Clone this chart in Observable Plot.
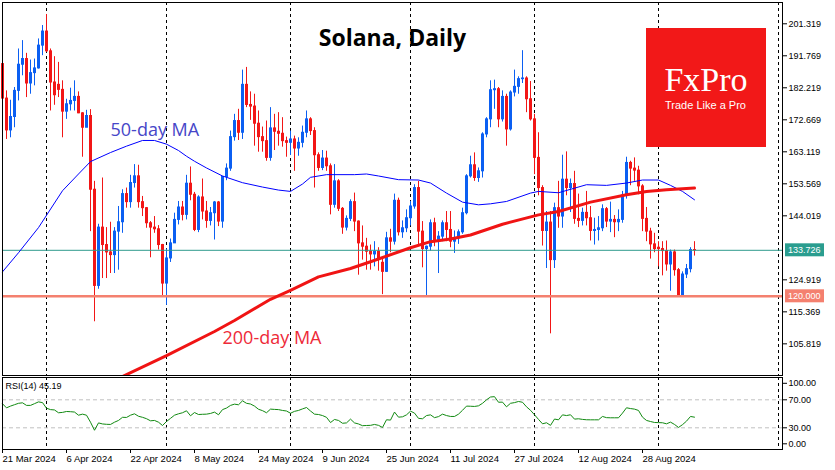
<!DOCTYPE html>
<html><head><meta charset="utf-8">
<script src="https://cdn.jsdelivr.net/npm/d3@7"></script>
<script src="https://cdn.jsdelivr.net/npm/@observablehq/plot@0.6"></script>
<style>
body{margin:0;background:#fff;}
#chart{position:relative;width:835px;height:470px;overflow:hidden;}
#chart svg{display:block;}
</style></head><body><div id="chart"></div>
<script>
// ---------- data ----------
const title = "Solana, Daily";
const startDate = "2024-03-21";
const open = [189.3,179.0,169.5,173.5,181.3,189.1,190.8,183.5,186.6,188.0,
194.8,199.0,193.1,183.8,183.1,181.6,175.1,177.3,178.3,179.5,
174.6,170.3,173.8,151.8,123.1,140.5,135.3,133.1,132.3,139.3,
142.1,150.5,148.1,153.8,155.8,148.1,146.3,141.8,140.5,140.0,
135.3,123.8,131.3,135.8,142.8,146.5,144.3,153.6,150.3,139.8,
149.5,145.3,142.5,144.8,148.0,142.3,155.6,158.1,167.5,172.3,
168.8,183.1,177.1,176.6,171.5,167.5,166.3,161.3,170.1,169.1,
168.5,166.3,165.8,166.8,164.1,165.8,168.8,172.8,169.3,162.1,
158.3,161.1,158.8,147.3,154.3,146.1,140.5,143.1,148.1,142.3,
135.8,134.8,133.3,132.5,133.3,130.0,127.3,137.3,136.3,148.5,
139.1,140.3,143.3,146.8,152.3,139.3,134.1,134.8,141.8,136.3,
137.8,141.8,139.8,136.3,137.3,139.1,144.8,155.8,159.1,155.3,
157.3,168.3,172.8,181.5,181.8,172.8,179.5,169.8,180.8,182.5,
184.8,185.0,178.8,172.8,161.3,152.3,139.5,142.0,130.8,146.3,
143.8,154.8,152.3,153.5,143.1,142.5,144.9,143.3,139.5,139.8,
140.3,146.0,142.3,142.8,142.1,142.8,150.1,159.8,158.1,157.5,
152.8,143.1,139.3,135.5,134.5,134.1,133.5,129.5,133.1,127.8,
120.1,126.5,128.1,133.8];
const high = [190.5,181.3,178.5,182.3,193.8,196.3,192.5,190.5,190.8,196.8,
200.8,204.1,193.8,191.5,189.8,184.3,178.8,182.1,184.3,181.0,
174.8,175.5,175.7,154.3,141.5,155.3,140.5,142.1,140.5,146.8,
151.8,152.3,156.1,159.3,159.1,149.8,146.5,142.3,143.8,141.1,
135.5,134.1,137.1,144.8,148.3,148.3,156.1,158.6,151.0,150.0,
155.0,148.3,146.5,148.3,148.3,155.8,159.5,169.3,174.3,175.8,
187.5,188.3,181.0,180.3,175.3,170.5,172.3,176.3,174.3,174.8,
173.3,167.5,169.3,167.8,167.3,170.8,175.3,173.3,170.3,162.8,
163.5,163.3,159.5,159.3,154.8,146.5,144.0,148.8,150.8,142.5,
141.0,137.3,135.3,136.3,134.5,131.5,139.1,140.0,150.5,149.3,
142.5,145.8,148.3,153.3,154.3,142.3,135.0,142.8,143.3,139.3,
142.5,145.3,145.3,139.5,139.8,146.3,156.3,161.8,162.8,158.3,
168.8,173.3,184.3,184.5,182.3,181.3,180.3,181.3,187.5,185.5,
193.3,185.5,184.1,174.3,168.8,153.0,145.3,145.3,147.8,154.3,
162.1,163.1,155.0,157.3,150.5,146.3,151.3,146.8,143.3,143.8,
147.3,146.5,148.1,144.1,145.8,151.3,161.5,160.3,161.3,158.8,
153.3,146.5,140.3,138.8,136.3,136.3,136.5,133.8,133.8,128.3,
127.3,129.5,134.5,136.3];
const low = [178.0,166.8,167.3,170.3,178.3,185.8,179.3,180.3,182.8,187.8,
191.8,192.8,175.3,177.0,179.3,167.3,172.8,175.3,175.3,174.5,
161.5,170.3,139.3,112.4,122.1,125.3,125.3,126.8,126.8,127.8,
138.8,146.3,146.3,152.3,146.3,143.8,140.3,131.5,138.8,133.8,
120.1,117.3,130.1,135.8,141.3,142.5,142.8,148.5,139.3,139.0,
142.8,140.3,141.0,136.8,140.8,140.3,154.5,157.3,166.3,166.5,
166.8,176.3,172.5,164.8,163.0,163.0,160.3,160.3,163.5,164.8,
164.5,161.5,162.0,157.3,161.8,164.3,167.3,168.0,152.3,157.3,
157.5,157.3,144.3,146.3,145.3,138.5,139.5,142.3,139.3,126.3,
130.8,127.8,127.8,128.8,127.5,120.5,127.1,133.0,135.3,138.0,
137.3,139.0,141.0,146.0,135.3,128.5,120.1,133.5,134.8,126.8,
136.3,136.3,134.5,132.8,135.5,138.5,144.3,155.3,154.3,154.0,
155.3,167.3,170.3,175.8,170.3,172.0,164.8,169.3,179.5,180.3,
183.5,174.8,172.3,156.3,150.0,135.0,128.3,108.8,128.3,140.3,
140.3,150.0,145.0,141.5,140.5,141.0,141.0,136.5,135.3,136.5,
139.3,140.5,139.0,137.5,139.3,141.8,149.0,153.0,154.3,150.3,
139.3,136.3,131.1,133.0,128.8,126.1,127.5,121.5,126.0,120.0,
120.0,125.3,127.0,132.0];
const close = [179.0,169.5,173.5,181.3,189.1,190.8,183.5,186.6,188.0,194.8,
199.0,193.1,183.8,180.0,181.6,175.1,177.3,178.3,179.5,174.6,
170.3,173.8,151.8,123.1,140.5,135.3,133.1,132.3,139.3,142.1,
150.5,148.1,153.8,155.8,148.1,146.3,141.8,140.5,140.0,135.3,
123.8,131.3,135.8,142.8,146.5,144.3,153.6,150.3,139.8,149.5,
145.3,142.5,144.8,148.0,142.3,155.6,158.1,167.5,172.3,168.8,
183.1,177.1,176.6,171.5,167.5,166.3,161.3,170.1,169.1,168.5,
166.3,165.8,166.8,164.1,165.8,168.8,172.8,169.3,162.1,158.3,
161.1,158.8,147.3,154.3,146.1,140.5,143.1,148.1,142.3,135.8,
134.8,133.3,132.5,133.3,131.3,127.3,137.3,136.3,148.5,139.1,
140.3,143.3,146.8,152.3,139.3,134.1,134.8,141.8,136.3,137.8,
141.8,139.8,136.3,137.3,139.1,144.8,155.8,159.1,155.3,157.3,
168.3,172.8,181.5,181.8,172.8,179.5,169.8,180.8,182.5,184.8,
185.0,178.8,172.8,161.3,152.3,139.5,142.0,130.8,146.3,143.8,
154.8,152.3,153.5,143.1,142.5,144.9,143.3,139.5,139.8,140.3,
146.0,142.3,142.8,142.1,142.8,150.1,159.8,158.1,157.5,152.8,
143.1,139.3,135.5,134.1,134.1,133.5,129.5,133.1,127.8,120.1,
126.5,128.1,133.8,133.726];
const rsi = [64.3,58.5,61,63,65,65.7,62,62,64.5,67,
66,58,56,55.5,51.5,52,53.3,53,52.5,48,
49.5,48,38,26.5,37,35.5,35,34.8,38,40.5,
45,44.8,48,50,46.5,45,43,40,40.5,38,
33.3,39,43.5,48,50,51.5,54.3,47.2,51.8,49,
49.3,49.5,50.5,52.4,48.6,56,58.2,62,63.8,62.9,
68.5,65,64,61,56.5,54.5,51.5,56.7,56.3,56,
54.8,54,50.8,53.5,54.8,57,59,54,49.5,49,
47.5,45,37.5,41.9,40.5,36.5,37,42.4,37,35.5,
33,33.3,33.5,34.8,33.5,30.5,41.5,41,52.5,45.2,
45.7,48.5,53.8,51,43.5,42.9,47.5,48.5,44.5,46,
49.5,47.5,46.2,46.2,49.5,55,61,60.8,60.5,61.4,
65,70,74,74.5,66.5,66.7,60,65,66,67.6,
66.5,60,55,48.6,42,35.7,37.2,33.5,42.5,41.4,
48.5,47.5,48.6,42.4,42.9,42,41.5,41.4,41.4,41.4,
46.2,44.5,44.3,44.3,44.3,51,58.6,57.5,56.7,54.8,
45.2,40.5,39,37.6,37.4,37.2,35.7,38.1,34.8,30.5,
34.5,39.5,46.2,45.19];
const ma50Day = [0,4,9,15,19,22,27,31,35,38,41,44,46,48,51,55,60,65,69,72,75,77,81,88,91,94,99,104,107,111,115,119,122,126,132,134,139,146,151,156,160,164,167,170,173];
const ma50 = [127.3,133,140.5,151.5,156.5,160.2,162.9,164.8,166.5,166.5,165.4,163.5,161.8,160.3,158.3,155.9,153.9,152.6,151.7,151.3,153.5,155.5,156.3,156.3,156.5,155.9,154.8,154.7,153.8,150.8,148.1,147.3,147.6,148.3,150.8,151.3,150.9,153.3,153.1,153.8,154.7,154.7,153.1,151.3,148.8];
const ma200Day = [29,41,53,58,67,72,79,87,92,102,107,112,117,125,134,139,147,156,161,166,173];
const ma200 = [95.5,102.3,109.5,112.8,119.1,121.8,125.8,128.3,130.3,134.5,136.3,137.1,138.3,141.5,144.3,145.3,148.1,150.3,151.3,151.8,152.3];
const priceTicks = [201.319,191.769,182.219,172.669,163.119,153.569,144.019,124.919,115.369,105.819];
const lastPrice = 133.726;
const supportLevel = 120.000;
const rsiLevels = [70, 30];
const rsiLabel = "RSI(14) 45.19";
const monthStarts = ["2024-04-01","2024-05-01","2024-06-01","2024-07-01","2024-08-01","2024-09-01","2024-10-01"];
const dateLabels = ["21 Mar 2024","6 Apr 2024","22 Apr 2024","8 May 2024","24 May 2024","9 Jun 2024","25 Jun 2024","11 Jul 2024","27 Jul 2024","12 Aug 2024","28 Aug 2024"];
const maLabels = ["50-day MA", "200-day MA"];
const brand = ["FxPro", "Trade Like a Pro"];

// ---------- build ----------
const DAY = 864e5;
const parseISO = d3.utcParse("%Y-%m-%d");
const t0 = parseISO(startDate);
const dateOf = i => new Date(+t0 + i * DAY);
const candles = open.map((o, i) => ({date: dateOf(i), open: o, high: high[i], low: low[i], close: close[i]}));
const rsiData = rsi.map((v, i) => ({date: dateOf(i), rsi: v}));
const ma50Pts = ma50Day.map((d, i) => ({date: dateOf(d), v: ma50[i]}));
const ma200Pts = ma200Day.map((d, i) => ({date: dateOf(d), v: ma200[i]}));
const seps = monthStarts.map(parseISO);
const tickDates = dateLabels.map(d3.utcParse("%d %b %Y"));
const xDomain = [t0, dateOf(195)];

const BLUE = "#0b5ff2", RED = "#f21616";
const FONT = "'Liberation Sans', Arial, sans-serif";
const colorOf = d => d.close >= d.open ? BLUE : RED;

const main = Plot.plot({
  width: 835, height: 376,
  marginTop: 2, marginBottom: 1, marginLeft: 2, marginRight: 53,
  style: {fontFamily: FONT, background: "white", overflow: "visible"},
  x: {type: "utc", domain: xDomain, axis: null},
  y: {domain: [96.37, 207.67], label: null},
  color: {type: "identity"},
  marks: [
    Plot.ruleX(seps, {stroke: "#000", strokeDasharray: "3,3"}),
    Plot.ruleX(candles, {x: "date", y1: "high", y2: "low", stroke: colorOf}),
    Plot.ruleX(candles, {x: "date", y1: d => Math.max(d.open, d.close), y2: d => Math.min(d.open, d.close),
      stroke: colorOf, strokeWidth: 3, insetTop: -0.5, insetBottom: -0.5}),
    Plot.ruleY([lastPrice], {stroke: "#2f9a8c"}),
    Plot.ruleY([supportLevel], {stroke: "#f4806f", strokeWidth: 2.5}),
    Plot.line(ma50Pts, {x: "date", y: "v", stroke: "#0000ff", strokeWidth: 1}),
    Plot.line(ma200Pts, {x: "date", y: "v", stroke: "#f01414", strokeWidth: 3, clip: true}),
    Plot.axisY(priceTicks, {anchor: "right", tickSize: 4, tickPadding: 2, tickFormat: d => d.toFixed(3), fontSize: 9, label: null}),
    Plot.frame({stroke: "#000"}),
    Plot.text([title], {frameAnchor: "top", dy: 43, lineAnchor: "bottom", fontSize: 23, fontWeight: "bold", fontFamily: "'Open Sans', sans-serif", fill: "#000"}),
    Plot.text([maLabels[0]], {frameAnchor: "top-left", dx: 108, dy: 133, lineAnchor: "bottom", textAnchor: "start", fontSize: 18, fontFamily: "'Open Sans', sans-serif", fill: "#4646c8"}),
    Plot.text([maLabels[1]], {frameAnchor: "top-left", dx: 220, dy: 341, lineAnchor: "bottom", textAnchor: "start", fontSize: 18, fontFamily: "'Open Sans', sans-serif", fill: "#ee2a38"})
  ]
});

// price label boxes on the right axis, positioned with the plot's own y scale
const ys = main.scale("y");
const svgMain = d3.select(main);
const tags = svgMain.append("g").attr("text-anchor", "start");
[[lastPrice, "#2a9d8f"], [supportLevel, "#f4806f"]].forEach(([v, c]) => {
  const y = ys.apply(v);
  tags.append("rect").attr("x", 785).attr("y", y - 6.5).attr("width", 39).attr("height", 13).attr("fill", c);
  tags.append("text").attr("x", 788).attr("y", y + 3.3).attr("fill", "#fff").attr("text-anchor", "start")
    .attr("font-family", FONT).attr("font-size", 9).text(v.toFixed(3));
});
// brand logo
const logo = svgMain.append("g");
logo.append("rect").attr("x", 646).attr("y", 28).attr("width", 120).attr("height", 119).attr("fill", "#f21818");
logo.append("text").attr("x", 706).attr("y", 90.5).attr("text-anchor", "middle").attr("fill", "#fff")
  .attr("font-family", "'Liberation Serif', 'Times New Roman', serif").attr("font-size", 34).text(brand[0]);
logo.append("text").attr("x", 705.5).attr("y", 108.5).attr("text-anchor", "middle").attr("fill", "#fff")
  .attr("font-family", FONT).attr("font-size", 11).text(brand[1]);

const axisOpts = {anchor: "right", tickSize: 4, tickPadding: 2, tickFormat: d => d.toFixed(2), fontSize: 9, label: null};
const rsiChart = Plot.plot({
  width: 835, height: 94,
  marginTop: 1, marginBottom: 21, marginLeft: 2, marginRight: 53,
  style: {fontFamily: FONT, background: "white", overflow: "visible"},
  x: {type: "utc", domain: xDomain, label: null},
  y: {domain: [-1, 101.86], label: null},
  marks: [
    Plot.ruleX(seps, {stroke: "#000", strokeDasharray: "3,3"}),
    Plot.ruleY(rsiLevels, {stroke: "#c0c0c0", strokeDasharray: "4,3"}),
    Plot.line(rsiData, {x: "date", y: "rsi", stroke: "#118a11", strokeWidth: 1}),
    Plot.frame({stroke: "#000"}),
    Plot.axisY(rsiLevels, axisOpts),
    Plot.axisY([100], {...axisOpts, dy: 4.5}),
    Plot.axisY([0], {...axisOpts, dy: -5}),
    Plot.axisX(tickDates, {anchor: "bottom", tickSize: 4, tickPadding: 2, textAnchor: "start",
      tickFormat: d3.utcFormat("%-d %b %Y"), fontSize: 9.5, label: null}),
    Plot.text([rsiLabel], {frameAnchor: "top-left", dx: 3, dy: 9, lineAnchor: "middle", textAnchor: "start", fontSize: 9, fill: "#000"})
  ]
});

const root = document.getElementById("chart");
root.appendChild(main);
root.appendChild(rsiChart);
</script></body></html>
